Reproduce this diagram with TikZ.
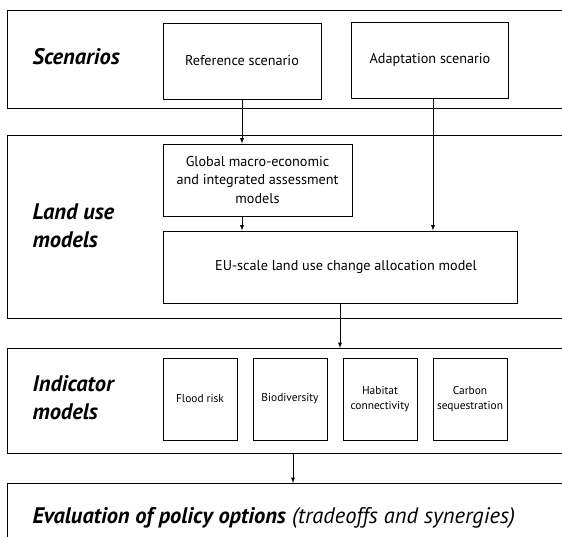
\documentclass[tikz,border=0pt]{standalone}
\usepackage{fontspec}
\setmainfont{PT Sans}
\begin{document}
\begin{tikzpicture}[x=1pt,y=-1pt]
        \tikzstyle{frame} = [rectangle, draw=black, line width=1.1pt, anchor=north west, minimum width=566pt, inner sep=0pt]
        \tikzstyle{block} = [rectangle, draw=black, line width=.9pt, text=black, text centered, font=\fontsize{14.2}{18.3}\selectfont, inner sep=2pt]
        \tikzstyle{small} = [block, minimum width=74pt, minimum height=82pt, align=center, inner sep=0pt, font=\fontsize{11.4}{15}\selectfont]
        \tikzstyle{head} = [anchor=west, align=left, font=\fontsize{22.5}{28}\selectfont\bfseries\itshape]
        \tikzstyle{line} = [-latex,draw=black,line width=.9pt]
        \useasboundingbox (0,0) rectangle (562,537);
        \clip (0,0) rectangle (562,537);
        % the four layers
        \node[frame, minimum height=98pt] (scenframe) at (7,10) {};
        \node[frame, minimum height=183pt] (landframe) at (7,135) {};
        \node[frame, minimum height=105pt] (indframe) at (7,348) {};
        \node[frame, minimum height=80pt] (evalframe) at (7,483) {};
        \node[head] (scenlabel) at (29,57) {Scenarios};
        \node[head] (landlabel) at (29,226) {Land use\\models};
        \node[head] (indlabel) at (29,398) {Indicator\\models};
        \node[anchor=west, font=\fontsize{22.5}{26}\selectfont] (evallabel) at (29,518) {\textbf{\textit{Evaluation of policy options}} \textit{(tradeoffs and synergies)}};
        % scenarios
        \node[block, minimum width=158pt, minimum height=76pt] (ref) at (242,61) {Reference scenario};
        \node[block, minimum width=157pt, minimum height=76pt] (adapt) at (430,60) {Adaptation scenario};
        % land use models
        \node[block, minimum width=189pt, minimum height=72pt, align=center] (global) at (257.5,180) {Global macro-economic\\and integrated assessment\\models};
        \node[block, minimum width=354pt, minimum height=72pt] (eu) at (340,267) {\hspace*{12pt}EU-scale land use change allocation model};
        % indicator models
        \node[small] (flood) at (200,399) {Flood risk};
        \node[small] (biodiv) at (290,399) {Biodiversity};
        \node[small] (habitat) at (380,399) {Habitat\\connectivity};
        \node[small] (carbon) at (470,399) {Carbon\\sequestration};
        \draw[line] (ref) to (ref |- global.north);
        \draw[line] (ref |- global.south) to (ref |- eu.north);
        \draw[line] ([xshift=3pt]adapt.south) to ([xshift=3pt]adapt.south |- eu.north);
        \draw[line] (eu) to (eu |- indframe.north);
        \draw[line] ([xshift=3pt]biodiv |- indframe.south) to ([xshift=3pt]biodiv |- evalframe.north);
    \end{tikzpicture}
\end{document}
